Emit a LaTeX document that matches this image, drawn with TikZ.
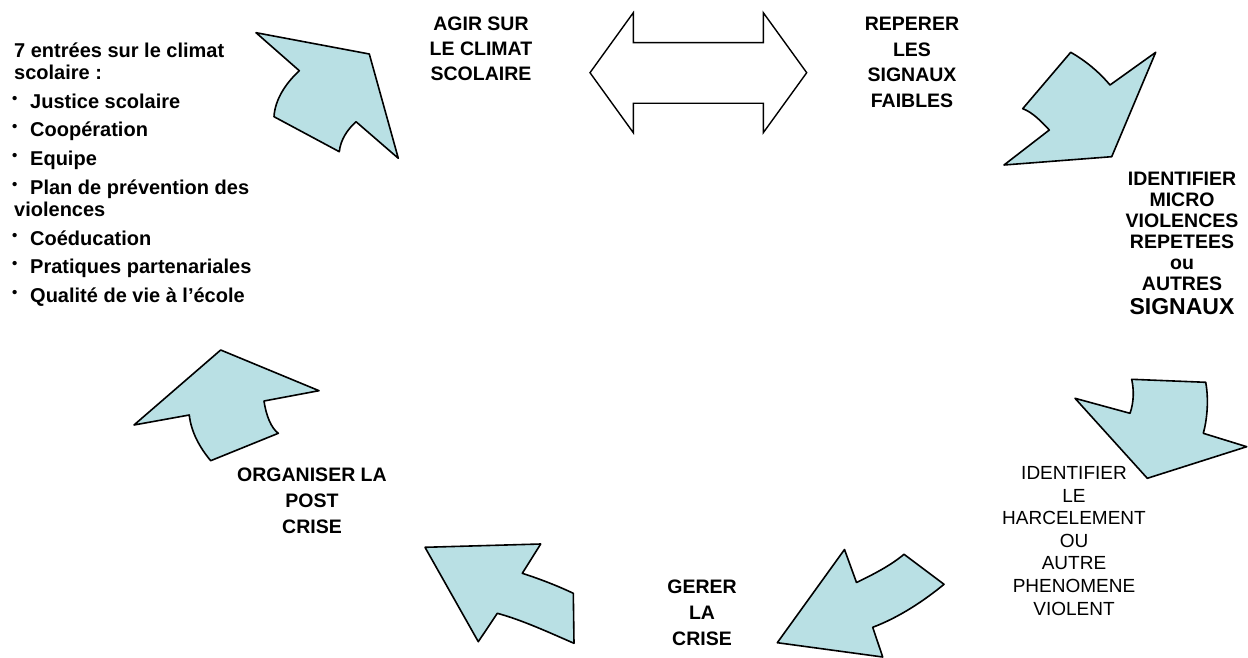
\documentclass[tikz,border=0pt]{standalone}
\usepackage{fontspec}
\setmainfont{Liberation Sans}
\definecolor{arrowfill}{RGB}{185,224,228}
\newcommand{\bul}{\makebox[18pt][l]{\raisebox{5pt}{\fontsize{15}{15}\selectfont •}}}
\tikzset{
  bigarrow/.style={draw=black, line width=1.6pt, fill=arrowfill, line join=round},
  dblarrow/.style={draw=black, line width=1.4pt, fill=white, line join=miter},
  lbl/.style={font=\bfseries\fontsize{19.5}{25}\selectfont, align=center, inner sep=0pt, anchor=north},
  lbltxt/.style={font=\fontsize{19}{22.6}\selectfont, align=center, inner sep=0pt, anchor=north},
  lst/.style={font=\bfseries\fontsize{20}{22}\selectfont, inner sep=0pt, anchor=base west}
}
\begin{document}
\begin{tikzpicture}[x=1pt,y=-1pt]
\useasboundingbox (0,0) rectangle (1248,658);

% cycle arrows
\draw[bigarrow] (256,32.7) -- (369.3,54) -- (398.3,158.3) -- (356,121.7)
  .. controls (347,130) and (340.5,140) .. (339.3,151.7) -- (274,116.7)
  .. controls (275,100) and (285,84) .. (299.3,70.7) -- cycle;
\draw[bigarrow] (1070.7,52.3) .. controls (1086,61) and (1099,72) .. (1110,85)
  -- (1155.7,52.3) -- (1111.7,156.7) -- (1004,165) -- (1049.3,130)
  .. controls (1041,121) and (1032,112) .. (1022.7,108.7) -- cycle;
\draw[bigarrow] (1131.7,379.3) -- (1205.7,382.3)
  .. controls (1209,400) and (1207,420) .. (1203.3,433.3) -- (1246.7,446.7)
  -- (1147.3,478.3) -- (1075,398.3) -- (1130,413.3)
  .. controls (1134,402) and (1134,390) .. (1131.7,379.3) -- cycle;
\draw[bigarrow] (844.5,549.5) -- (856.5,582.5)
  .. controls (872,575) and (890,566) .. (904,554.3) -- (944,584.3)
  .. controls (925,600) and (900,617) .. (872.7,627.3) -- (882.7,657)
  -- (777.3,642.7) -- cycle;
\draw[bigarrow] (425,547.3) -- (540.7,544) -- (522.3,573.3)
  .. controls (540,579) and (558,586) .. (573.3,593.3) -- (574,643.3)
  .. controls (548,632) and (522,620) .. (497.3,613.3) -- (478.3,641.7) -- cycle;
\draw[bigarrow] (220.7,350) -- (319,390.7) -- (264,401)
  .. controls (266,415) and (271,428) .. (278.3,433.3) -- (210.7,460.7)
  .. controls (200,448) and (191,432) .. (189.3,415) -- (134,425) -- cycle;

% double arrow
\draw[dblarrow] (590,72.7) -- (633.3,12.7) -- (633.3,42.7) -- (763.3,42.7)
  -- (763.3,12.7) -- (806.7,72.7) -- (763.3,132.7) -- (763.3,103.3)
  -- (633.3,103.3) -- (633.3,132.7) -- cycle;

% labels
\node[lbl] (agir) at (481,17) {AGIR SUR\\LE CLIMAT\\SCOLAIRE};
\node[lbl, font=\bfseries\fontsize{19.5}{25.5}\selectfont] (reperer) at (912,17) {REPERER\\LES\\SIGNAUX\\FAIBLES};
\node[lbl, font=\bfseries\fontsize{19.5}{21}\selectfont] (micro) at (1182,172)
  {IDENTIFIER\\MICRO\\VIOLENCES\\REPETEES\\ou\\AUTRES\\[3pt]{\fontsize{23}{23}\selectfont SIGNAUX}};
\node[lbltxt] (harc) at (1074,466.2) {IDENTIFIER\\LE\\HARCELEMENT\\OU\\AUTRE\\PHENOMENE\\VIOLENT};
\node[lbl, font=\bfseries\fontsize{19.5}{26}\selectfont] (gerer) at (702,580) {GERER\\LA\\CRISE};
\node[lbl, font=\bfseries\fontsize{19.5}{26}\selectfont] (post) at (312,468) {ORGANISER LA\\POST\\CRISE};

% list
\node[lst] (l1) at (14,57.2) {7 entrées sur le climat};
\node[lst] (l2) at (14,79.9) {scolaire :};
\node[lst] (l3) at (12,108.2) {\bul Justice scolaire};
\node[lst] (l4) at (12,136.5) {\bul Coopération};
\node[lst] (l5) at (12,165.2) {\bul Equipe};
\node[lst] (l6) at (12,194.2) {\bul Plan de prévention des};
\node[lst] (l7) at (14,216.5) {violences};
\node[lst] (l8) at (12,245.2) {\bul Coéducation};
\node[lst] (l9) at (12,273.7) {\bul Pratiques partenariales};
\node[lst] (l10) at (12,302.2) {\bul Qualité de vie à l’école};
\end{tikzpicture}
\end{document}
